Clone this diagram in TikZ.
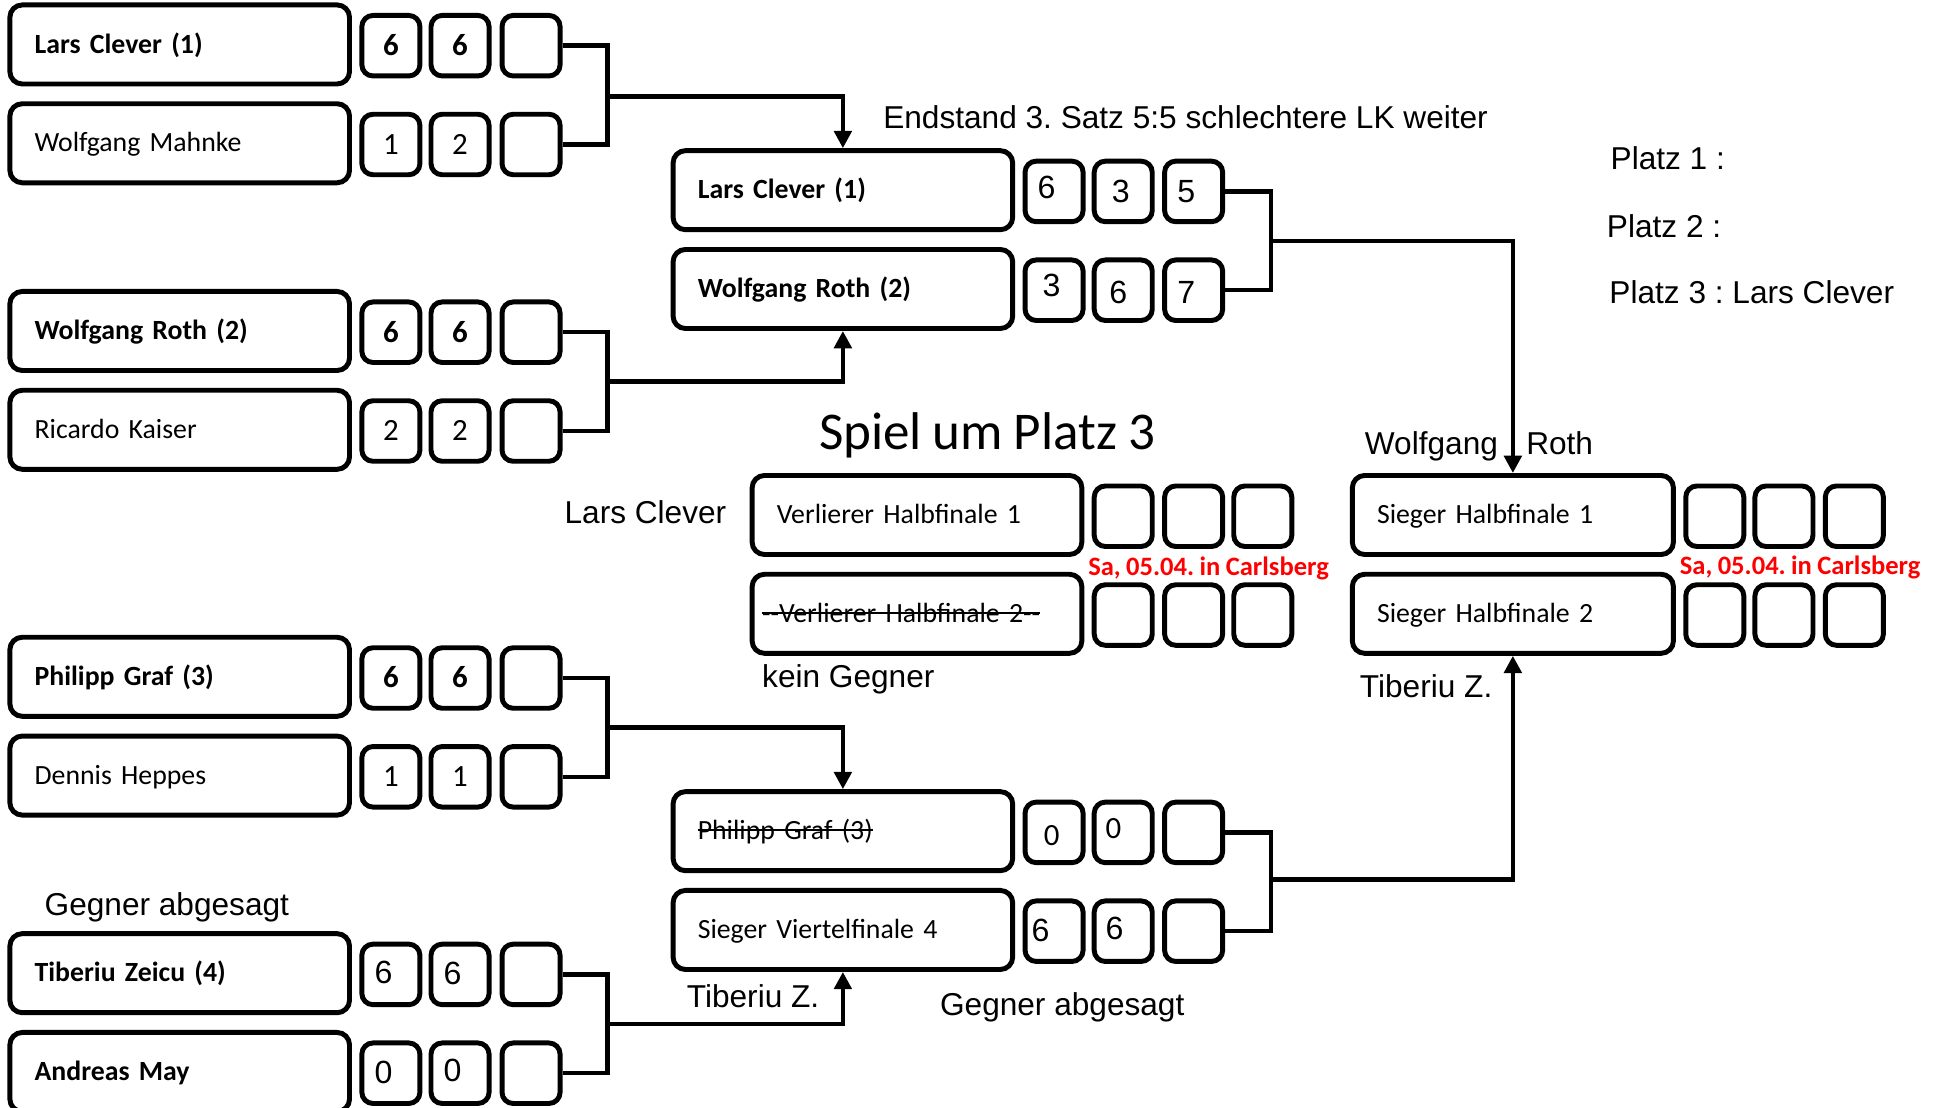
\documentclass[tikz,border=0pt]{standalone}
\usepackage{fontspec}
\setmainfont{Carlito}[WordSpace=0.9]
\newfontfamily\arialf{Liberation Sans}
\usetikzlibrary{arrows.meta}
\frenchspacing
\newcommand{\boxfont}{\fontsize{22.5}{27}\selectfont}
\newcommand{\digfont}{\fontsize{25}{30}\selectfont}
\newcommand{\adig}{\arialf\fontsize{26}{30}\selectfont}
\newcommand{\lblfont}{\arialf\fontsize{25.6}{30}\selectfont}
\newcommand{\off}[3]{\makebox[0pt]{\kern#1\raisebox{#2}{#3}\kern-#1}}
\newcommand{\strk}[1]{\setbox0\hbox{#1}\rlap{\raisebox{0.3em}{\rule{\wd0}{1.6pt}}}\box0}
\begin{document}
\begin{tikzpicture}[x=1pt,y=-1pt,
  namebox/.style={draw, line width=4pt, rounded corners=10pt, minimum width=275pt, minimum height=64pt,
    inner xsep=20pt, inner ysep=0pt, text width=235pt, align=left, text height=16.5pt, text depth=2.5pt, font=\boxfont},
  sbox/.style={draw, line width=4pt, rounded corners=9pt, minimum width=47pt, minimum height=49pt,
    inner sep=0pt, text height=16pt, text depth=0pt, font=\digfont},
  conn/.style={line width=3.6pt},
  arr/.style={conn, -{Triangle[length=14pt,width=14pt]}},
  lbl/.style={anchor=base west, inner sep=0pt, font=\lblfont},
  datetxt/.style={anchor=base west, inner sep=0pt, text=red, font=\fontsize{21.5}{25}\selectfont\bfseries}]
\useasboundingbox (0,0) rectangle (1566,896.4);

% ---------- Round 1 ----------
\node[namebox] (r1) at (145.5,36) {\bfseries Lars Clever (1)};
\node[namebox] (r2) at (145.5,116) {Wolfgang Mahnke};
\node[namebox] (r3) at (145.5,268) {\bfseries Wolfgang Roth (2)};
\node[namebox] (r4) at (145.5,348) {Ricardo Kaiser};
\node[namebox] (r5) at (145.5,548) {\bfseries Philipp Graf (3)};
\node[namebox] (r6) at (145.5,628) {Dennis Heppes};
\node[namebox] (r7) at (145.5,788) {\bfseries Tiberiu Zeicu (4)};
\node[namebox] (r8) at (145.5,868) {\bfseries Andreas May};

\node[sbox] (a11) at (316.5,37) {\bfseries 6};
\node[sbox] (a12) at (372.5,37) {\bfseries 6};
\node[sbox] (a13) at (430,37) {};
\node[sbox] (a21) at (316.5,117) {1};
\node[sbox] (a22) at (372.5,117) {2};
\node[sbox] (a23) at (430,117) {};
\node[sbox] (a31) at (316.5,269) {\bfseries 6};
\node[sbox] (a32) at (372.5,269) {\bfseries 6};
\node[sbox] (a33) at (430,269) {};
\node[sbox] (a41) at (316.5,349) {2};
\node[sbox] (a42) at (372.5,349) {2};
\node[sbox] (a43) at (430,349) {};
\node[sbox] (a51) at (316.5,549) {\bfseries 6};
\node[sbox] (a52) at (372.5,549) {\bfseries 6};
\node[sbox] (a53) at (430,549) {};
\node[sbox] (a61) at (316.5,629) {1};
\node[sbox] (a62) at (372.5,629) {1};
\node[sbox] (a63) at (430,629) {};
\node[sbox] (a71) at (316.5,789) {\adig\off{-6pt}{1pt}{6}};
\node[sbox] (a72) at (372.5,789) {\adig\off{-6pt}{0pt}{6}};
\node[sbox] (a73) at (430,789) {};
\node[sbox] (a81) at (316.5,869) {\adig\off{-6pt}{0pt}{0}};
\node[sbox] (a82) at (372.5,869) {\adig\off{-6pt}{1pt}{0}};
\node[sbox] (a83) at (430,869) {};

% ---------- Halbfinale ----------
\node[namebox] (h1) at (682.5,154) {\bfseries Lars Clever (1)};
\node[namebox] (h2) at (682.5,234) {\bfseries Wolfgang Roth (2)};
\node[namebox] (h3) at (682.5,673) {\strk{Philipp Graf (3)}};
\node[namebox] (h4) at (682.5,753) {Sieger Viertelfinale 4};

\node[sbox] (b11) at (853.5,155) {\adig\off{-6pt}{2pt}{6}};
\node[sbox] (b12) at (909.5,155) {\adig\off{-2pt}{-1pt}{3}};
\node[sbox] (b13) at (966.5,155) {\adig\off{-6pt}{-1pt}{5}};
\node[sbox] (b21) at (853.5,235) {\adig\off{-2pt}{3pt}{3}};
\node[sbox] (b22) at (909.5,235) {\adig\off{-4pt}{-3pt}{6}};
\node[sbox] (b23) at (966.5,235) {\adig\off{-6pt}{-3pt}{7}};
\node[sbox] (b31) at (853.5,674) {\off{-2pt}{-3pt}{0}};
\node[sbox] (b32) at (909.5,674) {\off{-8pt}{3pt}{0}};
\node[sbox] (b33) at (966.5,674) {};
\node[sbox] (b41) at (853.5,754) {\adig\off{-11pt}{0pt}{6}};
\node[sbox] (b42) at (909.5,754) {\adig\off{-7pt}{1pt}{6}};
\node[sbox] (b43) at (966.5,754) {};

% ---------- Spiel um Platz 3 ----------
\node[namebox, minimum width=267pt, text width=227pt] (p1) at (742.5,417) {Verlierer Halbfinale 1};
\node[namebox, minimum width=267pt, text width=227pt] (p2) at (742.5,497) {\hspace*{-12pt}\strk{-{}-Verlierer Halbfinale 2-{}-}};
\node[sbox] (c11) at (909.5,418) {};
\node[sbox] (c12) at (966.5,418) {};
\node[sbox] (c13) at (1022.5,418) {};
\node[sbox] (c21) at (909.5,498) {};
\node[sbox] (c22) at (966.5,498) {};
\node[sbox] (c23) at (1022.5,498) {};

% ---------- Finale ----------
\node[namebox, minimum width=260pt, text width=220pt] (f1) at (1225,417) {Sieger Halbfinale 1};
\node[namebox, minimum width=260pt, text width=220pt] (f2) at (1225,497) {Sieger Halbfinale 2};
\node[sbox] (d11) at (1388.5,418) {};
\node[sbox] (d12) at (1444.5,418) {};
\node[sbox] (d13) at (1501.5,418) {};
\node[sbox] (d21) at (1388.5,498) {};
\node[sbox] (d22) at (1444.5,498) {};
\node[sbox] (d23) at (1501.5,498) {};

% ---------- Connectors ----------
\coordinate (j1) at (492,78);
\coordinate (j2) at (492,309);
\coordinate (j3) at (492,589);
\coordinate (j4) at (492,829);
\coordinate (k1) at (1029,195);
\coordinate (k2) at (1029,712);

\draw[conn] (a13.east) -| (j1) |- (a23.east);
\draw[arr] (j1) -| (h1.north);
\draw[conn] (a33.east) -| (j2) |- (a43.east);
\draw[arr] (j2) -| (h2.south);
\draw[conn] (a53.east) -| (j3) |- (a63.east);
\draw[arr] (j3) -| (h3.north);
\draw[conn] (a73.east) -| (j4) |- (a83.east);
\draw[arr] (j4) -| (h4.south);
\draw[conn] (b13.east) -| (k1) |- (b23.east);
\draw[arr] (k1) -| (f1.north);
\draw[conn] (b33.east) -| (k2) |- (b43.east);
\draw[arr] (k2) -| (f2.south);

% ---------- Labels ----------
\node[lbl] (endst) at (715,104) {Endstand 3. Satz 5:5 schlechtere LK weiter};
\node[lbl] (pl1) at (1304,137) {Platz 1 :};
\node[lbl] (pl2) at (1301,192) {Platz 2 :};
\node[lbl] (pl3) at (1303,246) {Platz 3 : Lars Clever};
\node[anchor=base west, inner sep=0pt, font=\fontsize{43}{50}\selectfont] (spiel) at (663,364) {Spiel um Platz 3};
\node[lbl] (wr) at (1105,368) {Wolfgang\hspace{23pt}Roth};
\node[lbl] (lc) at (457,424) {Lars Clever};
\node[lbl] (kg) at (617,557) {kein Gegner};
\node[lbl] (tz1) at (1101,565) {Tiberiu Z.};
\node[lbl] (ga1) at (36,741) {Gegner abgesagt};
\node[lbl] (tz2) at (556,816) {Tiberiu Z.};
\node[lbl] (ga2) at (761,822) {Gegner abgesagt};
\node[datetxt] (dt1) at (881,466) {Sa, 05.04. in Carlsberg};
\node[datetxt] (dt2) at (1360,465) {Sa, 05.04. in Carlsberg};
\end{tikzpicture}
\end{document}
